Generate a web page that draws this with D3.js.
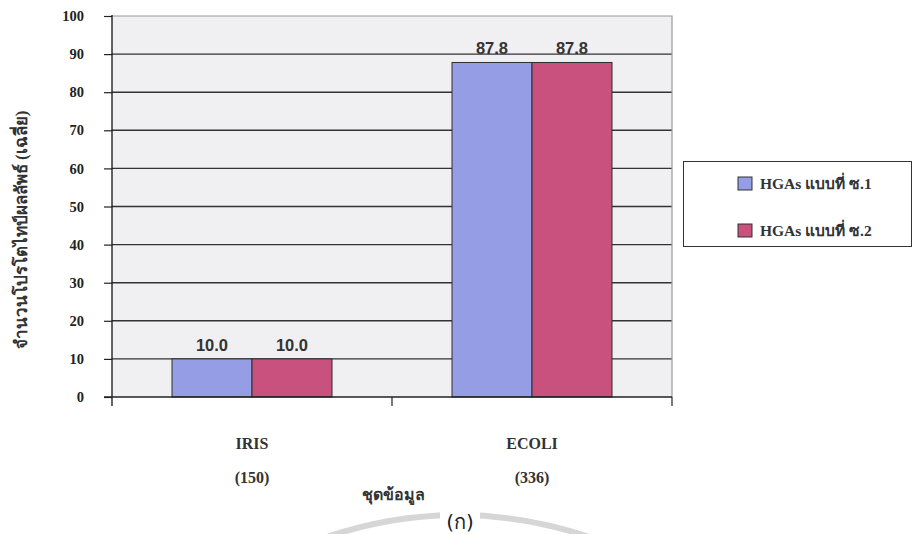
<!DOCTYPE html>
<html>
<head>
<meta charset="utf-8">
<script src="https://cdn.jsdelivr.net/npm/d3@7"></script>
<style>
  html, body { margin: 0; padding: 0; background: #fff; }
  svg { display: block; }
</style>
</head>
<body>
<svg id="chart" width="916" height="534"></svg>
<script>
// Datasets (with sample counts) and average prototype counts per HGA variant
const categories = ["IRIS", "ECOLI"];
const sampleCounts = ["(150)", "(336)"];
const seriesNames = ["HGAs แบบที่ ซ.1", "HGAs แบบที่ ซ.2"];
const series1 = [10.0, 87.8];
const series2 = [10.0, 87.8];
const yTicks = [0, 10, 20, 30, 40, 50, 60, 70, 80, 90, 100];
const seriesColors = ["#959de4", "#c8517d"];

const svg = d3.select("#chart");
const plot = { left: 112, right: 672, top: 16, bottom: 397 };

const x = d3.scaleBand().domain(categories).range([plot.left, plot.right]).paddingInner(0).paddingOuter(0);
const inner = d3.scaleBand().domain([0, 1]).range([0, 160]);
const y = d3.scaleLinear().domain([0, 100]).range([plot.bottom, plot.top]);

const serif = "'Liberation Serif', 'Times New Roman', serif";
const sans = "'Liberation Sans', Arial, sans-serif";

// Plot background
svg.append("rect")
  .attr("x", plot.left).attr("y", plot.top)
  .attr("width", plot.right - plot.left).attr("height", plot.bottom - plot.top)
  .attr("fill", "#f0eff1");

// Horizontal gridlines
svg.append("g").selectAll("line")
  .data(yTicks.filter(d => d > 0 && d < 100))
  .join("line")
  .attr("x1", plot.left).attr("x2", plot.right)
  .attr("y1", d => y(d)).attr("y2", d => y(d))
  .attr("stroke", "#333").attr("stroke-width", 1.4);

// Top and right frame
svg.append("path")
  .attr("d", `M${plot.left},${y(100)}H${plot.right}V${plot.bottom}`)
  .attr("fill", "none").attr("stroke", "#9a9a9a").attr("stroke-width", 1.2);

// Bars
const data = categories.map((c, i) => ({ cat: c, values: [series1[i], series2[i]] }));
const groups = svg.append("g").selectAll("g")
  .data(data).join("g")
  .attr("transform", d => `translate(${x(d.cat) + (x.bandwidth() - 160) / 2},0)`);

groups.selectAll("rect")
  .data(d => d.values.map((v, k) => ({ v, k })))
  .join("rect")
  .attr("x", d => inner(d.k))
  .attr("width", inner.bandwidth())
  .attr("y", d => y(d.v))
  .attr("height", d => y(0) - y(d.v))
  .attr("fill", d => seriesColors[d.k])
  .attr("stroke", "#2e2e2e").attr("stroke-width", 1);

groups.selectAll("text")
  .data(d => d.values.map((v, k) => ({ v, k })))
  .join("text")
  .attr("x", d => inner(d.k) + inner.bandwidth() / 2)
  .attr("y", d => y(d.v) - 8)
  .attr("text-anchor", "middle")
  .attr("font-family", sans).attr("font-weight", "bold").attr("font-size", 16.5)
  .attr("fill", "#333")
  .text(d => d.v.toFixed(1));

// Y axis
const yAxis = svg.append("g")
  .attr("transform", `translate(${plot.left},0)`)
  .call(d3.axisLeft(y).tickValues(yTicks).tickSize(8).tickPadding(20).tickSizeOuter(0));
yAxis.select(".domain").remove();
yAxis.append("line")
  .attr("x1", 0).attr("x2", 0).attr("y1", y(100) - 1).attr("y2", plot.bottom + 9)
  .attr("stroke", "#111").attr("stroke-width", 1.3);
yAxis.selectAll(".tick line").attr("stroke", "#222").attr("stroke-width", 1.2);
yAxis.selectAll(".tick text")
  .attr("font-family", serif).attr("font-weight", "bold").attr("font-size", 14.5)
  .attr("fill", "#222");

// X axis baseline with ticks between categories
const xAxisG = svg.append("g");
xAxisG.append("line")
  .attr("x1", plot.left - 8).attr("x2", plot.right)
  .attr("y1", plot.bottom).attr("y2", plot.bottom)
  .attr("stroke", "#222").attr("stroke-width", 1.4);
const xTickPos = [x(categories[1]), plot.right];
xAxisG.selectAll("line.t").data(xTickPos).join("line").attr("class", "t")
  .attr("x1", d => d).attr("x2", d => d)
  .attr("y1", plot.bottom).attr("y2", plot.bottom + 9)
  .attr("stroke", "#222").attr("stroke-width", 1.2);

// Category labels
xAxisG.selectAll("text.cat").data(categories).join("text").attr("class", "cat")
  .attr("x", d => x(d) + x.bandwidth() / 2).attr("y", 449)
  .attr("text-anchor", "middle")
  .attr("font-family", serif).attr("font-weight", "bold").attr("font-size", 16)
  .attr("fill", "#333").text(d => d);
xAxisG.selectAll("text.cnt").data(sampleCounts).join("text").attr("class", "cnt")
  .attr("x", (d, i) => x(categories[i]) + x.bandwidth() / 2).attr("y", 483)
  .attr("text-anchor", "middle")
  .attr("font-family", serif).attr("font-weight", "bold").attr("font-size", 16)
  .attr("fill", "#333").text(d => d);

// X axis title
svg.append("text")
  .attr("x", 393).attr("y", 500)
  .attr("text-anchor", "middle")
  .attr("font-family", serif).attr("font-weight", "bold").attr("font-size", 16)
  .attr("fill", "#333").text("ชุดข้อมูล");

// Y axis title
svg.append("text")
  .attr("transform", "translate(27,230) rotate(-90)")
  .attr("text-anchor", "middle")
  .attr("font-family", serif).attr("font-weight", "bold").attr("font-size", 17)
  .attr("fill", "#333").text("จำนวนโปรโตไทป์ผลลัพธ์ (เฉลี่ย)");

// Legend
const legend = svg.append("g");
legend.append("rect")
  .attr("x", 683.5).attr("y", 161.5).attr("width", 228).attr("height", 85)
  .attr("fill", "#fff").attr("stroke", "#333").attr("stroke-width", 1);
const items = legend.selectAll("g").data(seriesNames).join("g")
  .attr("transform", (d, i) => `translate(738,${177 + i * 47})`);
items.append("rect")
  .attr("width", 14).attr("height", 13)
  .attr("fill", (d, i) => seriesColors[i])
  .attr("stroke", "#333").attr("stroke-width", 1);
items.append("text")
  .attr("x", 22).attr("y", 12)
  .attr("font-family", serif).attr("font-weight", "bold").attr("font-size", 15.5)
  .attr("fill", "#333").text(d => d);

// Figure caption with faint ring behind it
svg.append("path")
  .attr("d", "M318,540 Q458,490 598,540")
  .attr("fill", "none").attr("stroke", "#d6d6d6").attr("stroke-width", 6);
svg.append("rect")
  .attr("x", 440).attr("y", 507).attr("width", 40).attr("height", 27)
  .attr("fill", "#fff");
svg.append("text")
  .attr("x", 460).attr("y", 529)
  .attr("text-anchor", "middle")
  .attr("font-family", "'DejaVu Sans', 'Noto Sans', sans-serif").attr("font-size", 20)
  .attr("fill", "#222").text("(ก)");
</script>
</body>
</html>
